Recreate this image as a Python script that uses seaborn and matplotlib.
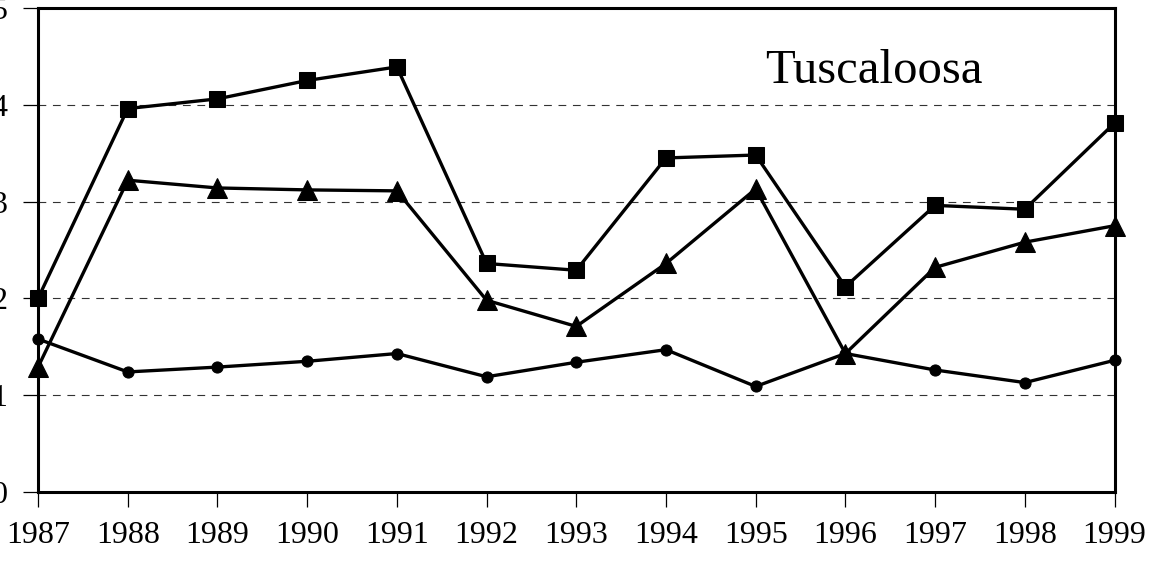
import pandas as pd
import seaborn as sns
import matplotlib.pyplot as plt

# valores (Tuscaloosa)
anos = [1987, 1988, 1989, 1990, 1991, 1992, 1993, 1994, 1995, 1996, 1997, 1998, 1999]
serie_quadrado = [2.00, 3.96, 4.06, 4.25, 4.39, 2.36, 2.29, 3.45, 3.48, 2.12, 2.96, 2.92, 3.81]
serie_triangulo = [1.29, 3.22, 3.14, 3.12, 3.11, 1.98, 1.71, 2.36, 3.13, 1.43, 2.32, 2.58, 2.75]
serie_circulo = [1.58, 1.24, 1.29, 1.35, 1.43, 1.19, 1.34, 1.47, 1.09, 1.43, 1.26, 1.13, 1.36]
titulo = 'Tuscaloosa'

base = pd.DataFrame({'ano': anos,
                     'quadrado': serie_quadrado,
                     'triangulo': serie_triangulo,
                     'circulo': serie_circulo})

sns.set_style('white')
plt.rcParams['font.family'] = ['Liberation Serif', 'DejaVu Serif']

fig = plt.figure(figsize=(11.6, 5.61), dpi=100)
ax = fig.add_axes([0.0328, 0.123, 0.928, 0.863])

# linhas de grade tracejadas
for v in [1, 2, 3, 4]:
    ax.axhline(v, color='#333333', lw=0.8, ls=(0, (7, 6)), zorder=1)

# tres series, cada uma com seu marcador
estilos = [('quadrado', 's', 12), ('triangulo', '^', 14), ('circulo', 'o', 8)]
for col, marca, tam in estilos:
    sns.lineplot(data=base, x='ano', y=col, ax=ax, color='black',
                 marker=marca, markersize=tam, markeredgecolor='black',
                 linewidth=2.4, clip_on=False, zorder=5)

ax.set_xlim(1987, 1999)
ax.set_ylim(0, 5)
ax.set_xticks(anos)
ax.set_xticklabels([str(a) for a in anos])
ax.set_yticks([0, 1, 2, 3, 4, 5])
ax.set_xlabel('')
ax.set_ylabel('')

for lado in ['left', 'right', 'top', 'bottom']:
    ax.spines[lado].set_visible(True)
    ax.spines[lado].set_color('black')
    ax.spines[lado].set_linewidth(2.2)

ax.tick_params(axis='x', direction='out', length=11, width=0.9, pad=10,
               labelsize=23, colors='black', bottom=True)
ax.tick_params(axis='y', direction='out', length=11, width=0.9, pad=11,
               labelsize=23, colors='black', left=True)

ax.text(0.675, 0.845, titulo, transform=ax.transAxes, fontsize=35,
        ha='left', va='baseline', color='black')

fig.savefig('out.png', dpi=100)
